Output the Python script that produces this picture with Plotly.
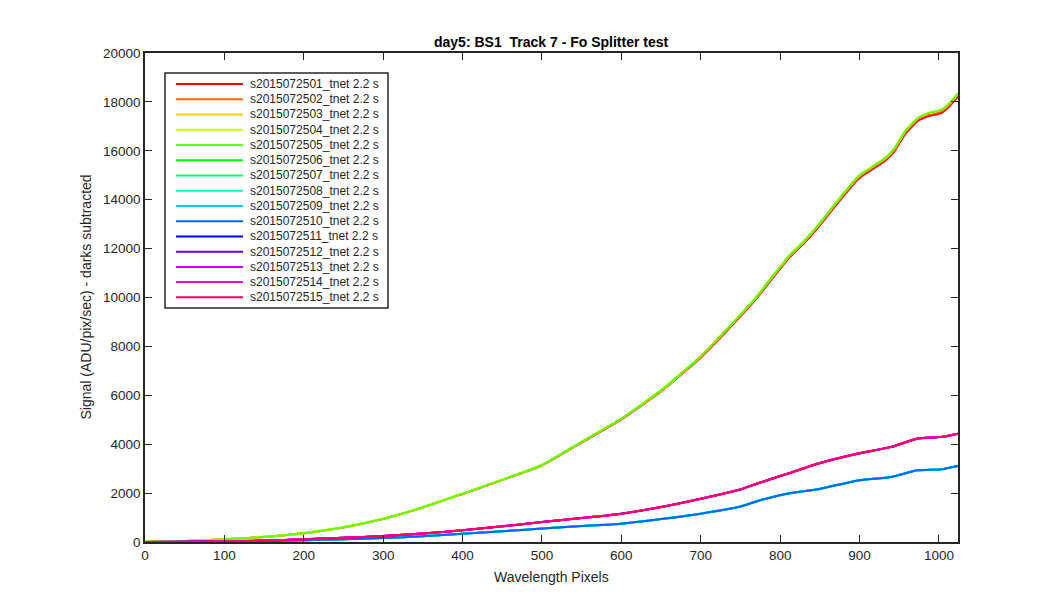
import plotly.graph_objects as go

# ---- data ----
pixels_high = [0, 50, 100, 150, 200, 250, 300, 350, 400, 450, 500, 550, 600, 650, 700, 750,
               772, 790, 800, 810, 830, 848, 873, 898, 906, 932, 944, 957, 973, 986, 1003, 1013, 1024]
signal_high = [10, 40, 110, 210, 360, 600, 950, 1420, 1980, 2550, 3150, 4100, 5050, 6200, 7600, 9300,
               10100, 10850, 11250, 11660, 12300, 12960, 13980, 14940, 15140, 15690, 16100, 16780,
               17330, 17530, 17670, 17940, 18350]

pixels_mid = [0, 50, 100, 150, 200, 250, 300, 350, 400, 450, 500, 550, 600, 650, 700, 750,
              772, 800, 810, 848, 898, 940, 973, 1003, 1024]
signal_mid = [0, 10, 30, 60, 110, 170, 250, 350, 480, 640, 820, 980, 1160, 1430, 1770, 2150,
              2400, 2700, 2800, 3210, 3620, 3890, 4230, 4300, 4430]

pixels_low = [0, 50, 100, 150, 200, 250, 300, 350, 400, 450, 500, 550, 600, 650, 700, 750,
              772, 810, 848, 898, 940, 973, 1003, 1024]
signal_low = [0, 5, 20, 40, 70, 110, 160, 240, 340, 440, 550, 650, 750, 940, 1160, 1450,
              1680, 1980, 2160, 2520, 2660, 2930, 2970, 3110]

series_names = ["s20150725%02d_tnet 2.2 s" % i for i in range(1, 16)]
series_group = ["high"] * 5 + ["low"] * 5 + ["mid"] * 5
series_gain = [0.993, 0.997, 1.0, 1.0, 1.0,
               1.0, 1.0, 1.003, 1.0, 1.0,
               1.0, 0.998, 1.0, 1.0, 1.0]
series_colors = ["#ff0000", "#ff6600", "#ffcc00", "#ccff00", "#66ff00",
                 "#00ff00", "#00ff66", "#00ffcc", "#00ccff", "#0066ff",
                 "#0000ff", "#6600ff", "#cc00ff", "#ff00cc", "#ff0066"]

groups = {
    "high": (pixels_high, signal_high),
    "mid": (pixels_mid, signal_mid),
    "low": (pixels_low, signal_low),
}

title_text = "day5: BS1\u00a0\u00a0Track 7 - Fo Splitter test"
x_title = "Wavelength Pixels"
y_title = "Signal (ADU/pix/sec) - darks subtracted"

FONT = "Liberation Sans, Arial, Helvetica, sans-serif"
TXT = "#262626"

fig = go.Figure()
for name, grp, gain, col in zip(series_names, series_group, series_gain, series_colors):
    xs, ys = groups[grp]
    fig.add_trace(go.Scatter(
        x=xs, y=[v * gain for v in ys], mode="lines", name=name,
        line=dict(color=col, width=2, shape="spline", smoothing=0.5), showlegend=False,
    ))

# ---- manual MATLAB-style legend ----
L, R, T, B = 137, 950, 45, 534
W, H = R - L, B - T
def px(x):
    return (x - L) / W
def py(y):
    return (B - y) / H

shapes = [dict(type="rect", xref="paper", yref="paper",
               x0=px(157), x1=px(380), y0=py(300), y1=py(65),
               line=dict(color=TXT, width=1.5), fillcolor="white", layer="above")]
annotations = []
for i, (name, col) in enumerate(zip(series_names, series_colors)):
    yy = 76 + 15.24 * i
    shapes.append(dict(type="line", xref="paper", yref="paper",
                       x0=px(168), x1=px(235), y0=py(yy), y1=py(yy),
                       line=dict(color=col, width=2), layer="above"))
    annotations.append(dict(xref="paper", yref="paper", x=px(240), y=py(yy),
                            xanchor="left", yanchor="middle", text=name, showarrow=False,
                            font=dict(family=FONT, size=12, color=TXT)))

annotations.append(dict(xref="paper", yref="paper", x=0.5, y=py(34), xanchor="center",
                        yanchor="middle", text="<b>" + title_text + "</b>", showarrow=False,
                        font=dict(family=FONT, size=14, color="black")))
annotations.append(dict(xref="paper", yref="paper", x=0.5, y=py(569), xanchor="center",
                        yanchor="middle", text=x_title, showarrow=False,
                        font=dict(family=FONT, size=14, color=TXT)))
annotations.append(dict(xref="paper", yref="paper", x=px(77), y=0.5, xanchor="center",
                        yanchor="middle", text=y_title, showarrow=False, textangle=-90,
                        font=dict(family=FONT, size=14, color=TXT)))

axis_common = dict(showgrid=False, zeroline=False, showline=True, linecolor=TXT, linewidth=1.5,
                   mirror="ticks", ticks="inside", ticklen=7, tickwidth=1.2, tickcolor=TXT,
                   automargin=False, tickformat="d",
                   tickfont=dict(family=FONT, size=13.5, color=TXT))

fig.update_layout(
    width=1050, height=600,
    margin=dict(l=L, r=1050 - R, t=T, b=600 - B, autoexpand=False),
    paper_bgcolor="white", plot_bgcolor="white",
    xaxis=dict(range=[0, 1024], dtick=100, tick0=0, **axis_common),
    yaxis=dict(range=[0, 20000], dtick=2000, tick0=0, **axis_common),
    shapes=shapes, annotations=annotations,
    showlegend=False,
)

fig.write_html("out.html")
